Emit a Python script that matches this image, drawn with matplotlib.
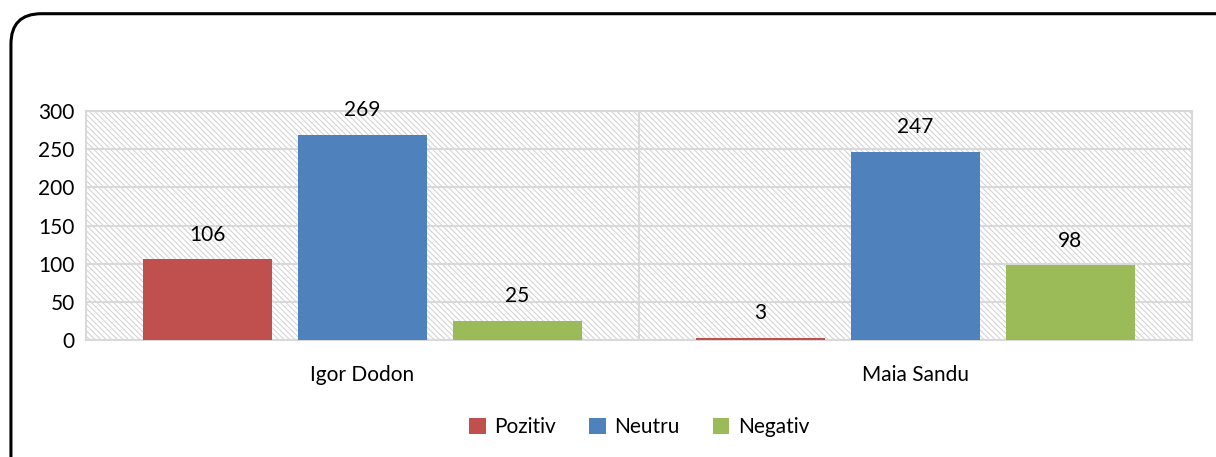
import numpy as np
import matplotlib.pyplot as plt
from matplotlib.patches import FancyBboxPatch, Rectangle

candidates = ["Igor Dodon", "Maia Sandu"]
series = ["Pozitiv", "Neutru", "Negativ"]
pozitiv = [106, 3]
neutru = [269, 247]
negativ = [25, 98]
colors = ["#c0504d", "#4f81bd", "#9bbb59"]

plt.rcParams["font.family"] = ["Lato", "DejaVu Sans"]
plt.rcParams["hatch.linewidth"] = 0.7
plt.rcParams["hatch.color"] = "#d0d0d0"

fig = plt.figure(figsize=(12.16, 4.57), dpi=100)
ax = fig.add_axes([0.0707, 0.256, 0.9095, 0.501])

# rounded frame around the chart
frame = FancyBboxPatch((0.009, -0.1), 1.1, 1.07, boxstyle="round,pad=0,rounding_size=0.025",
                       transform=fig.transFigure, fill=False, lw=2.2, ec="black",
                       mutation_aspect=12.16 / 4.57)
fig.patches.append(frame)

# hatched plot background
bg = Rectangle((0, 0), 1, 1, transform=ax.transAxes, facecolor="white",
               hatch="\\\\\\\\\\\\", edgecolor="#d0d0d0", lw=0, zorder=0)
ax.add_patch(bg)

x = np.arange(len(candidates))
w = 0.234
off = 0.28
for i, (vals, col) in enumerate(zip([pozitiv, neutru, negativ], colors)):
    bars = ax.bar(x + (i - 1) * off, vals, w, color=col, label=series[i], zorder=3)
    for b, v in zip(bars, vals):
        ax.text(b.get_x() + b.get_width() / 2, v + 19, str(v), ha="center", va="bottom",
                fontsize=15, zorder=4)

ax.set_xlim(-0.5, 1.5)
ax.set_ylim(0, 300)
ax.set_yticks(range(0, 301, 50))
ax.grid(axis="y", color="#d9d9d9", lw=1.5, zorder=1)
ax.axvline(0.5, color="#d9d9d9", lw=1.5, zorder=1)
ax.set_xticks(x)
ax.set_xticklabels(candidates)
ax.tick_params(length=0, labelsize=15, pad=8)
ax.tick_params(axis="x", pad=18)
for s in ax.spines.values():
    s.set_color("#d9d9d9")
    s.set_linewidth(1.5)

ax.legend(loc="center", bbox_to_anchor=(0.5, -0.38), ncol=3, frameon=False, fontsize=15,
          handlelength=0.8, handleheight=0.8, handletextpad=0.4, columnspacing=1.6)

fig.savefig("out.png", dpi=100)
